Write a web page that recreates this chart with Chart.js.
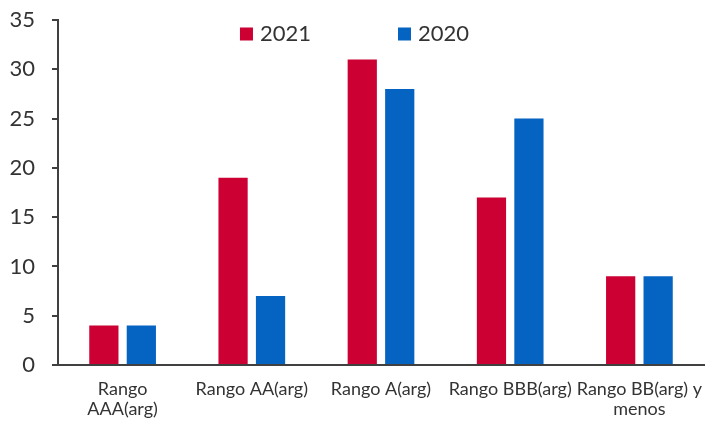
<html>
  <head>
    <script src="https://cdnjs.cloudflare.com/ajax/libs/Chart.js/4.4.0/chart.umd.min.js"></script>
  </head>
  <body style="margin:0;background:#fff;">
    <div id="wrapper">
      <canvas id="chart"></canvas>
    </div>
    <script>
      const categories = [
        ["Rango", "AAA(arg)"],
        "Rango AA(arg)",
        "Rango A(arg)",
        "Rango BBB(arg)",
        ["Rango BB(arg) y", "menos"]
      ];
      const values2021 = [4, 19, 31, 17, 9];
      const values2020 = [4, 7, 28, 25, 9];
      const yTicks = [0, 5, 10, 15, 20, 25, 30, 35];

      const textColor = '#333333';
      const axisColor = '#404040';

      // legend drawn inside the plot area, centred on the canvas
      const insideLegend = {
        id: 'insideLegend',
        afterDraw(chart) {
          const ctx = chart.ctx;
          const sets = chart.data.datasets;
          ctx.save();
          ctx.font = '22px Lato';
          ctx.textBaseline = 'middle';
          const box = 13, gap = 7, between = 87;
          let total = 0;
          sets.forEach(function(s, i) {
            total += box + gap + ctx.measureText(s.label).width;
            if (i < sets.length - 1) total += between;
          });
          let x = chart.width / 2 - total / 2 + 2;
          const y = 34;
          sets.forEach(function(s) {
            ctx.fillStyle = s.backgroundColor;
            ctx.fillRect(x, y - box / 2, box, box);
            x += box + gap;
            ctx.fillStyle = textColor;
            ctx.fillText(s.label, x, y);
            x += ctx.measureText(s.label).width + between;
          });
          ctx.restore();
        }
      };

      new Chart("chart", {
        type: "bar",
        plugins: [insideLegend],
        data: {
          labels: categories,
          datasets: [
            {
              label: '2021',
              data: values2021,
              backgroundColor: '#CC0033',
              barPercentage: 0.78,
              categoryPercentage: 0.58
            },
            {
              label: '2020',
              data: values2020,
              backgroundColor: '#0563C1',
              barPercentage: 0.78,
              categoryPercentage: 0.58
            }
          ]
        },
        options: {
          responsive: true,
          maintainAspectRatio: false,
          animation: false,
          layout: {
            padding: { left: 0, right: 0, top: 0, bottom: 0 }
          },
          plugins: {
            legend: { display: false },
            tooltip: { enabled: false }
          },
          scales: {
            x: {
              grid: { display: false, drawTicks: false },
              border: { display: true, color: axisColor, width: 2 },
              afterFit: function(scale) {
                scale.height = 56;
                scale.paddingLeft = 0;
                scale.paddingRight = 1;
              },
              ticks: {
                color: textColor,
                font: { family: 'Lato', size: 18, lineHeight: 1.12 },
                padding: 14,
                maxRotation: 0,
                autoSkip: false
              }
            },
            y: {
              min: 0,
              max: 35,
              afterFit: function(scale) { scale.width = 58; scale.paddingTop = 20; },
              afterBuildTicks: function(scale) {
                scale.ticks = yTicks.map(function(v) { return { value: v }; });
              },
              grid: {
                drawOnChartArea: false,
                drawTicks: true,
                tickLength: 6,
                color: axisColor,
                lineWidth: 2
              },
              border: { display: true, color: axisColor, width: 2 },
              ticks: {
                color: textColor,
                font: { family: 'Lato', size: 22 },
                padding: 17
              }
            }
          }
        }
      });
    </script>
  </body>
  <style>
    #wrapper {
      width: 705px;
      height: 421px;
    }
  </style>
</html>
